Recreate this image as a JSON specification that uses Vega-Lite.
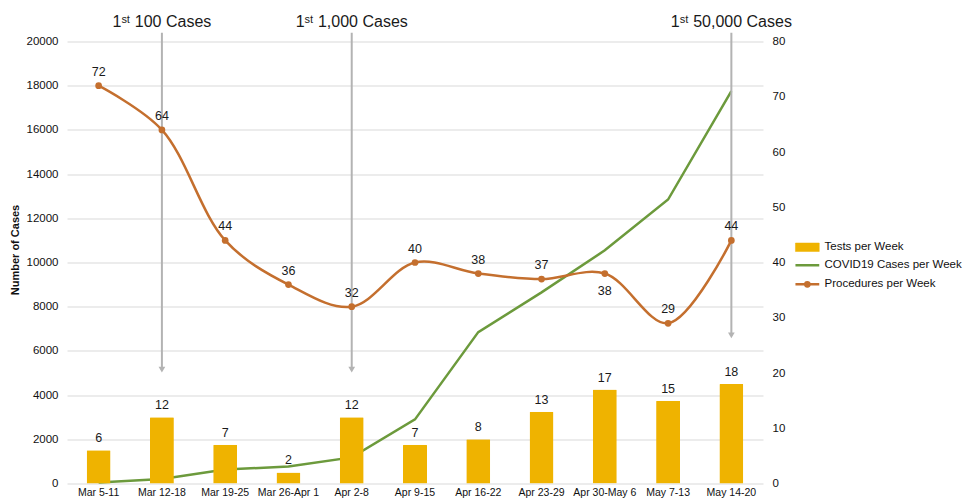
{
  "$schema": "https://vega.github.io/schema/vega-lite/v6.json",
  "autosize": {"type": "none"},
  "width": 696,
  "height": 442,
  "padding": {"left": 67, "top": 41.5, "right": 201, "bottom": 15.5},
  "background": "white",
  "config": {
    "font": "Liberation Sans",
    "view": {"stroke": null}
  },
  "datasets": {
    "weekly": [
      {"week": "Mar 5-11", "tests": 6, "procedures": 72, "cases": 40},
      {"week": "Mar 12-18", "tests": 12, "procedures": 64, "cases": 200},
      {"week": "Mar 19-25", "tests": 7, "procedures": 44, "cases": 630},
      {"week": "Mar 26-Apr 1", "tests": 2, "procedures": 36, "cases": 770},
      {"week": "Apr 2-8", "tests": 12, "procedures": 32, "cases": 1180},
      {"week": "Apr 9-15", "tests": 7, "procedures": 40, "cases": 2900},
      {"week": "Apr 16-22", "tests": 8, "procedures": 38, "cases": 6850},
      {"week": "Apr 23-29", "tests": 13, "procedures": 37, "cases": 8650},
      {"week": "Apr 30-May 6", "tests": 17, "procedures": 38, "cases": 10550},
      {"week": "May 7-13", "tests": 15, "procedures": 29, "cases": 12850},
      {"week": "May 14-20", "tests": 18, "procedures": 44, "cases": 17750}
    ],
    "milestones": [
      {"week": "Mar 12-18", "label": "1ˢᵗ 100 Cases", "start": 20400, "tip": 5150},
      {"week": "Apr 2-8", "label": "1ˢᵗ 1,000 Cases", "start": 20400, "tip": 5150},
      {"week": "May 14-20", "label": "1ˢᵗ 50,000 Cases", "start": 20400, "tip": 6700}
    ]
  },
  "encoding": {
    "x": {
      "field": "week",
      "type": "nominal",
      "sort": null,
      "scale": {"paddingInner": 0, "paddingOuter": 0},
      "axis": {
        "title": null,
        "orient": "bottom",
        "ticks": false,
        "domain": false,
        "labelAngle": 0,
        "labelPadding": 4,
        "labelFontSize": 10.5,
        "labelColor": "#111111",
        "labelFont": "Liberation Sans"
      }
    }
  },
  "layer": [
    {
      "layer": [
        {
          "data": {"name": "weekly"},
          "mark": {"type": "line", "strokeWidth": 2.5},
          "encoding": {
            "y": {
              "field": "cases",
              "type": "quantitative",
              "scale": {"domain": [0, 20000], "nice": false},
              "axis": {
                "orient": "left",
                "values": [0, 2000, 4000, 6000, 8000, 10000, 12000, 14000, 16000, 18000, 20000],
                "format": "d",
                "ticks": false,
                "domain": false,
                "grid": true,
                "gridColor": "#d9d9d9",
                "gridWidth": 1,
                "labelPadding": 9,
                "labelFontSize": 11.5,
                "labelColor": "#111111",
                "title": "Number of Cases",
                "titleFontSize": 11,
                "titleFontWeight": "bold",
                "titleColor": "#111111",
                "titleX": -52,
                "titleY": 208,
                "titleAngle": -90,
                "titleAlign": "center",
                "titleBaseline": "middle"
              }
            },
            "color": {
              "datum": "COVID19 Cases per Week",
              "scale": {
                "domain": ["Tests per Week", "COVID19 Cases per Week", "Procedures per Week"],
                "range": ["#efb300", "#6c9a3c", "#c46f2e"]
              },
              "legend": {
                "title": null,
                "orient": "none",
                "legendX": 738,
                "legendY": 200,
                "padding": 0,
                "symbolSize": 289,
                "rowPadding": 5,
                "labelOffset": 8,
                "labelFontSize": 11.5,
                "labelColor": "#111111",
                "labelFont": "Liberation Sans",
                "labelLimit": 400,
                "symbolStrokeWidth": 2.5,
                "symbolOpacity": 1,
                "encode": {
                  "symbols": {
                    "update": {
                      "shape": {"signal": "datum.value === 'Tests per Week' ? 'M-1.8,-0.5H1V0.5H-1.8Z' : datum.value === 'COVID19 Cases per Week' ? 'M-1.8,0H1' : 'M-1.8,0H1M-0.65,0A0.25,0.25 0 1 1 -0.15,0A0.25,0.25 0 1 1 -0.65,0Z'"},
                      "fill": {"scale": "color", "field": "value"},
                      "stroke": {"scale": "color", "field": "value"},
                      "strokeWidth": {"signal": "datum.value === 'Tests per Week' ? 0.5 : 2.5"},
                      "opacity": {"value": 1}
                    }
                  }
                }
              }
            }
          }
        },
        {
          "data": {"name": "milestones"},
          "mark": {"type": "rule", "color": "#b3b3b3", "strokeWidth": 2},
          "encoding": {
            "y": {"field": "start", "type": "quantitative"},
            "y2": {"field": "tip"}
          }
        },
        {
          "data": {"name": "milestones"},
          "mark": {"type": "point", "shape": "triangle-down", "filled": true, "color": "#b3b3b3", "size": 45, "opacity": 1},
          "encoding": {
            "y": {"field": "tip", "type": "quantitative"}
          }
        },
        {
          "data": {"name": "milestones"},
          "transform": [{"calculate": "20650", "as": "labelY"}],
          "mark": {"type": "text", "fontSize": 16, "color": "#1a1a1a", "baseline": "alphabetic", "align": "center"},
          "encoding": {
            "y": {"field": "labelY", "type": "quantitative"},
            "text": {"field": "label"}
          }
        }
      ]
    },
    {
      "data": {"name": "weekly"},
      "layer": [
        {
          "mark": {"type": "bar", "width": 24, "cornerRadiusTopLeft": 1, "cornerRadiusTopRight": 1},
          "encoding": {
            "y": {
              "field": "tests",
              "type": "quantitative",
              "scale": {"domain": [0, 80], "nice": false},
              "axis": {
                "orient": "right",
                "values": [0, 10, 20, 30, 40, 50, 60, 70, 80],
                "ticks": false,
                "domain": false,
                "grid": false,
                "labelPadding": 9,
                "labelFontSize": 11.5,
                "labelColor": "#111111",
                "title": null
              }
            },
            "color": {"datum": "Tests per Week"}
          }
        },
        {
          "mark": {"type": "text", "fontSize": 12.5, "color": "#1a1a1a", "baseline": "alphabetic", "dy": -8},
          "encoding": {
            "y": {"field": "tests", "type": "quantitative"},
            "text": {"field": "tests"}
          }
        },
        {
          "mark": {"type": "line", "interpolate": "catmull-rom", "strokeWidth": 2.5},
          "encoding": {
            "y": {"field": "procedures", "type": "quantitative"},
            "color": {"datum": "Procedures per Week"}
          }
        },
        {
          "mark": {"type": "point", "filled": true, "shape": "circle", "size": 45, "color": "#c46f2e", "opacity": 1},
          "encoding": {
            "y": {"field": "procedures", "type": "quantitative"}
          }
        },
        {
          "transform": [{"filter": "datum.week !== 'Apr 30-May 6'"}],
          "mark": {"type": "text", "fontSize": 12.5, "color": "#1a1a1a", "baseline": "alphabetic", "dy": -10},
          "encoding": {
            "y": {"field": "procedures", "type": "quantitative"},
            "text": {"field": "procedures"}
          }
        },
        {
          "transform": [{"filter": "datum.week === 'Apr 30-May 6'"}],
          "mark": {"type": "text", "fontSize": 12.5, "color": "#1a1a1a", "baseline": "alphabetic", "dy": 21},
          "encoding": {
            "y": {"field": "procedures", "type": "quantitative"},
            "text": {"field": "procedures"}
          }
        }
      ]
    }
  ],
  "resolve": {"scale": {"y": "independent"}}
}
